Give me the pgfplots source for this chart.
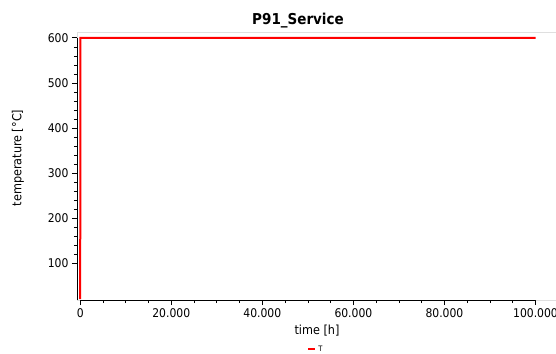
\documentclass[border=0pt]{standalone}
\usepackage{pgfplots}
\pgfplotsset{compat=1.18}
\usepackage{fontspec}
\setmainfont{DejaVu Sans Condensed}
\begin{document}
\begin{tikzpicture}
\begin{axis}[
  at={(0,0)}, anchor=south west,
  scale only axis, width=479pt, height=268pt,
  xmin=-700, xmax=104500, ymin=18, ymax=613,
  clip=false,
  scaled x ticks=false, scaled y ticks=false,
  axis line style={draw=none},
  xtick={0,20000,40000,60000,80000,100000},
  xticklabels={0,20.000,40.000,60.000,80.000,100.000},
  minor x tick num=3,
  ytick={100,200,300,400,500,600},
  yticklabels={100,200,300,400,500,600},
  minor y tick num=4,
  xtick pos=bottom, ytick pos=left,
  tick align=outside,
  major tick length=5pt, minor tick length=3pt,
  every tick/.style={black, line width=0.7pt},
  tick label style={font=\fontsize{12}{14}\selectfont},
  legend style={at={(0.499,-0.183)}, anchor=center, draw=none, fill=none,
    font=\fontsize{7.5}{8}\selectfont, inner sep=0pt},
  legend image code/.code={\draw[red, line width=2pt] (0pt,0pt) -- (7pt,0pt);},
]
\addplot[red, line width=2pt, no marks, line join=miter] coordinates {(0,20) (60,600) (100000,600)};
\addlegendentry{T}
\draw[black, line width=0.8pt] (axis cs:-700,18) -- (axis cs:-700,600);
\draw[gray!25] (axis cs:-700,600) -- (axis cs:-700,613) -- (axis cs:104500,613);
\draw[gray!25] (axis cs:-700,18) -- (axis cs:0,18);
\draw[black, line width=0.8pt] (axis cs:0,18) -- (axis cs:100000,18);
\draw[gray!25] (axis cs:100000,18) -- (axis cs:104500,18);
\end{axis}
\node[font=\fontsize{15}{17}\selectfont\bfseries, anchor=base] at (221pt,275pt) {P91\_Service};
\node[font=\fontsize{12.5}{14}\selectfont] at (240pt,-31pt) {time [h]};
\node[font=\fontsize{12.5}{14}\selectfont, rotate=90] at (-59pt,142pt) {temperature [°C]};
\pgfresetboundingbox
\path[use as bounding box] (-77pt,-53pt) rectangle (479pt,300pt);
\end{tikzpicture}
\end{document}
